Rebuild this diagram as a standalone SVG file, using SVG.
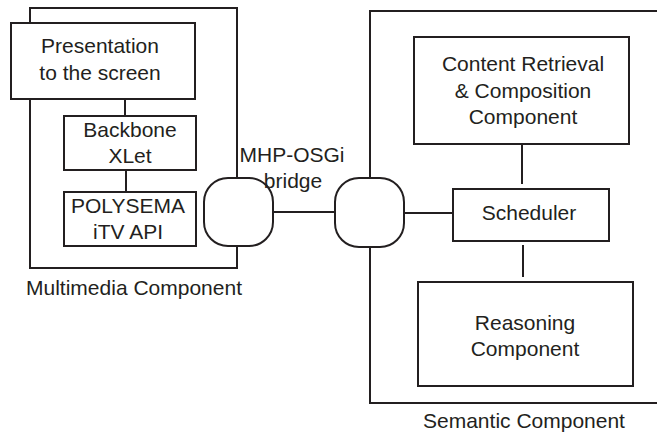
<svg xmlns="http://www.w3.org/2000/svg" width="657" height="432" viewBox="0 0 657 432">
<style>
.b{fill:#fff;stroke:#231f20;stroke-width:2}
.l{stroke:#231f20;stroke-width:2;fill:none}
text{font-family:"Liberation Sans",Arial,sans-serif;font-size:21px;fill:#231f20;text-anchor:middle}
</style>
<rect width="657" height="432" fill="#fff"/>
<g id="multimedia-component">
<path class="l" d="M237,178 V8 H30 V268 H237 V246"/>
<text x="134" y="295">Multimedia Component</text>
</g>
<g id="semantic-component">
<path class="l" d="M370,178 V11 H658 M658,403 H370 V247"/>
<text x="524" y="428">Semantic Component</text>
</g>
<g id="connectors">
<line class="l" x1="125" y1="99" x2="125" y2="116"/>
<line class="l" x1="126" y1="170" x2="126" y2="192"/>
<line class="l" x1="273" y1="212" x2="335" y2="212"/>
<line class="l" x1="404" y1="213" x2="453" y2="213"/>
<line class="l" x1="522" y1="144" x2="522" y2="184"/>
<line class="l" x1="523" y1="245" x2="523" y2="277"/>
</g>
<g id="presentation">
<rect class="b" x="11" y="23" width="184" height="76"/>
<text x="100" y="53">Presentation</text>
<text x="100" y="80">to the screen</text>
</g>
<g id="backbone">
<rect class="b" x="64" y="116" width="132" height="54"/>
<text x="130" y="137">Backbone</text>
<text x="130" y="163">XLet</text>
</g>
<g id="polysema">
<rect class="b" x="64" y="192" width="132" height="54"/>
<text x="128" y="213">POLYSEMA</text>
<text x="128" y="239">iTV API</text>
</g>
<g id="bridge-left">
<rect class="b" x="204" y="178" width="69" height="68" rx="24"/>
</g>
<g id="bridge-label">
<text x="292" y="162">MHP-OSGi</text>
<text x="293" y="188">bridge</text>
</g>
<g id="bridge-right">
<rect class="b" x="335" y="178" width="69" height="69" rx="24"/>
</g>
<g id="content-retrieval">
<rect class="b" x="414" y="37" width="215" height="107"/>
<text x="523" y="71">Content Retrieval</text>
<text x="523" y="98">&amp; Composition</text>
<text x="523" y="124">Component</text>
</g>
<g id="scheduler">
<rect class="b" x="453" y="189" width="156" height="52"/>
<text x="529" y="220">Scheduler</text>
</g>
<g id="reasoning">
<rect class="b" x="418" y="282" width="215" height="104"/>
<text x="525" y="330">Reasoning</text>
<text x="525" y="356">Component</text>
</g>
</svg>
